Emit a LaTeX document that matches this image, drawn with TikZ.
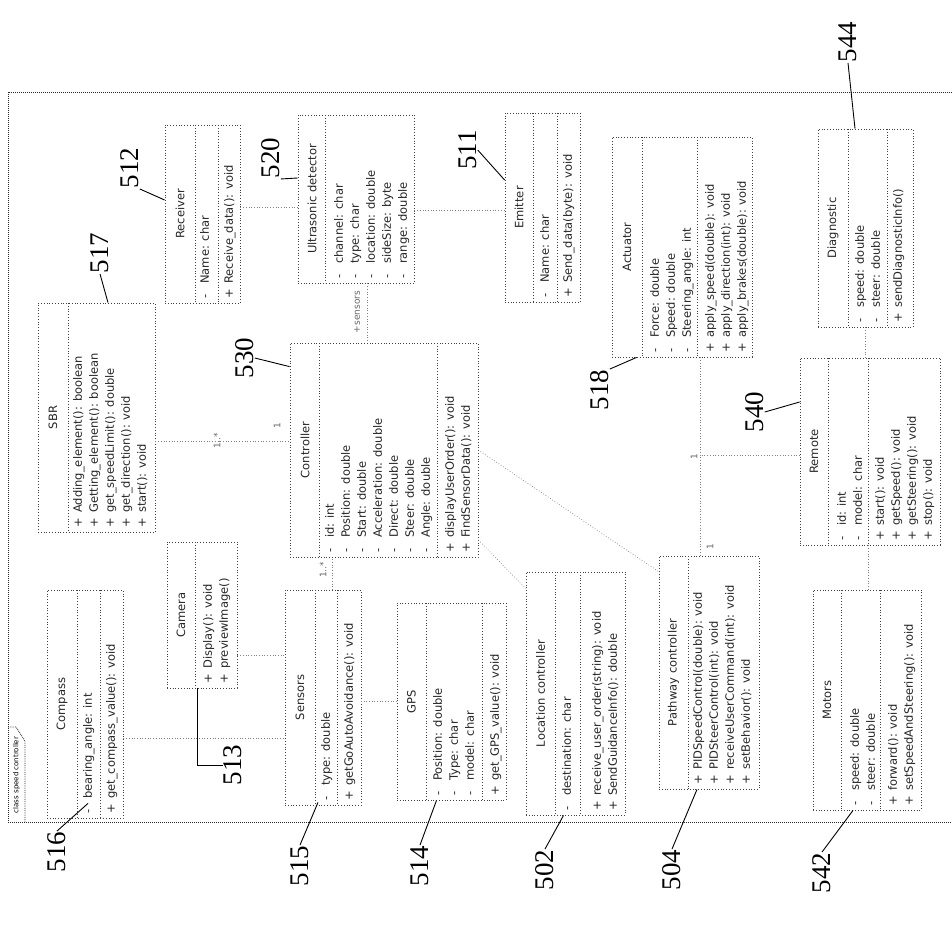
\documentclass[tikz,border=0pt]{standalone}
\usepackage{fontspec}
\usepackage{tikz}
\usetikzlibrary{fit,calc}
\newfontfamily\umlfam{DejaVu Sans}
\newfontfamily\numfam{Liberation Serif}
\newcommand{\umlfont}{\umlfam\fontsize{11.5}{16}\selectfont}
\newcommand{\mulfont}{\umlfam\fontsize{9}{10}\selectfont}
\newcommand{\tabfont}{\umlfam\fontsize{7}{8}\selectfont}
\newcommand{\numfont}{\numfam\fontsize{27}{30}\selectfont}
\newcommand{\vis}[1]{\makebox[15pt][l]{#1}}

\begin{document}
\begin{tikzpicture}[x=1pt, y=-1pt,
  cls/.style={draw=black!75, dotted, line width=0.8pt, inner sep=0pt},
  dv/.style={draw=black!75, dotted, line width=0.8pt},
  ttl/.style={rotate=90, font=\umlfont, text=black!85, inner sep=0pt},
  lst/.style={rotate=90, anchor=north west, align=left, font=\umlfont, text=black!85, inner sep=0pt},
  lnk/.style={draw=black!50, dotted, line width=0.7pt},
  mul/.style={rotate=90, font=\mulfont, text=black!60, inner sep=0.5pt},
  num/.style={rotate=90, font=\numfont, inner sep=0.5pt},
  ldr/.style={draw=black, line width=0.9pt}]
  \useasboundingbox (0,0) rectangle (952,930);
  \clip (0,0) rectangle (952,930);
  % --- frame ---
  \node[draw=black!85, densely dotted, line width=1pt, inner sep=0pt, fit={(8,92)(990,822)}] (frm) {};
  \draw[draw=black!85, densely dotted, line width=0.8pt] (8,727) -- (16,727) -- (25,741) -- (25,822);
  \node[rotate=90, font=\tabfont, inner sep=0pt] (tab) at (16.5,775) {class speed controller};
  % --- left column ---
  \node[cls, fit={(47,590)(123,818)}] (cmp) {};
  \draw[dv] (77,590) -- (77,818); \draw[dv] (100,590) -- (100,818);
  \node[ttl] (cmp-n) at (62,704) {Compass};
  \node[lst] (cmp-a) at (83,814) {\vis{-}bearing\_angle: int};
  \node[lst] (cmp-m) at (106,814) {\vis{+}get\_compass\_value(): void};
  \node[cls, fit={(167,542)(237,688)}] (cam) {};
  \draw[dv] (195,542) -- (195,688);
  \node[ttl] (cam-n) at (181,615) {Camera};
  \node[lst] (cam-m) at (203,684) {\vis{+}Display(): void\\\vis{+}previewImage()};
  \node[cls, fit={(38,303)(155,532)}] (sbr) {};
  \draw[dv] (68,303) -- (68,532);
  \node[ttl] (sbr-n) at (53,417.5) {SBR};
  \node[lst] (sbr-m) at (73,528) {\vis{+}Adding\_element(): boolean\\\vis{+}Getting\_element(): boolean\\\vis{+}get\_speedLimit(): double\\\vis{+}get\_direction(): void\\\vis{+}start(): void};
  \node[cls, fit={(165,125)(240,303)}] (rcv) {};
  \draw[dv] (195,125) -- (195,303); \draw[dv] (218,125) -- (218,303);
  \node[ttl] (rcv-n) at (180,214) {Receiver};
  \node[lst] (rcv-a) at (200,299) {\vis{-}Name: char};
  \node[lst] (rcv-m) at (224,299) {\vis{+}Receive\_data(): void};
  % --- middle column ---
  \node[cls, fit={(298,115)(414,283)}] (usd) {};
  \draw[dv] (325,115) -- (325,283);
  \node[ttl] (usd-n) at (312,199) {Ultrasonic detector};
  \node[lst] (usd-a) at (334,279) {\vis{-}channel: char\\\vis{-}type: char\\\vis{-}location: double\\\vis{-}sideSize: byte\\\vis{-}range: double};
  \node[cls, fit={(290,343)(478,557)}] (ctl) {};
  \draw[dv] (319,343) -- (319,557); \draw[dv] (437,343) -- (437,557);
  \node[ttl] (ctl-n) at (305,450) {Controller};
  \node[lst] (ctl-a) at (325,553) {\vis{-}id: int\\\vis{-}Position: double\\\vis{-}Start: double\\\vis{-}Acceleration: double\\\vis{-}Direct: double\\\vis{-}Steer: double\\\vis{-}Angle: double};
  \node[lst] (ctl-m) at (445,553) {\vis{+}displayUserOrder(): void\\\vis{+}FindSensorData(): void};
  \node[cls, fit={(285,590)(361,805)}] (sns) {};
  \draw[dv] (315,590) -- (315,805); \draw[dv] (337,590) -- (337,805);
  \node[ttl] (sns-n) at (300,697.5) {Sensors};
  \node[lst] (sns-a) at (321,801) {\vis{-}type: double};
  \node[lst] (sns-m) at (344,801) {\vis{+}getGoAutoAvoidance(): void};
  \node[cls, fit={(397,603)(506,800)}] (gps) {};
  \draw[dv] (426,603) -- (426,800); \draw[dv] (482,603) -- (482,800);
  \node[ttl] (gps-n) at (411.5,701.5) {GPS};
  \node[lst] (gps-a) at (433,796) {\vis{-}Position: double\\\vis{-}Type: char\\\vis{-}model: char};
  \node[lst] (gps-m) at (490,796) {\vis{+}get\_GPS\_value(): void};
  \node[cls, fit={(505,113)(580,302)}] (emt) {};
  \draw[dv] (533,113) -- (533,302); \draw[dv] (557,113) -- (557,302);
  \node[ttl] (emt-n) at (519,207.5) {Emitter};
  \node[lst] (emt-a) at (540,298) {\vis{-}Name: char};
  \node[lst] (emt-m) at (563,298) {\vis{+}Send\_data(byte): void};
  \node[cls, fit={(526,572)(625,815)}] (loc) {};
  \draw[dv] (555,572) -- (555,815); \draw[dv] (580,572) -- (580,815);
  \node[ttl] (loc-n) at (540.5,693.5) {Location controller};
  \node[lst] (loc-a) at (562,811) {\vis{-}destination: char};
  \node[lst] (loc-m) at (592,811) {\vis{+}receive\_user\_order(string): void\\\vis{+}SendGuidanceInfo(): double};
  % --- right column ---
  \node[cls, fit={(612,137)(752,357)}] (act) {};
  \draw[dv] (642,137) -- (642,357); \draw[dv] (697,137) -- (697,357);
  \node[ttl] (act-n) at (627,247) {Actuator};
  \node[lst] (act-a) at (650,353) {\vis{-}Force: double\\\vis{-}Speed: double\\\vis{-}Steering\_angle: int};
  \node[lst] (act-m) at (705,353) {\vis{+}apply\_speed(double): void\\\vis{+}apply\_direction(int): void\\\vis{+}apply\_brakes(double): void};
  \node[cls, fit={(659,556)(759,789)}] (pth) {};
  \draw[dv] (688,556) -- (688,789);
  \node[ttl] (pth-n) at (673.5,672.5) {Pathway controller};
  \node[lst] (pth-m) at (693,785) {\vis{+}PIDSpeedControl(double): void\\\vis{+}PIDSteerControl(int): void\\\vis{+}receiveUserCommand(int): void\\\vis{+}setBehavior(): void};
  \node[cls, fit={(818,129)(913,327)}] (dgn) {};
  \draw[dv] (848,129) -- (848,327); \draw[dv] (887,129) -- (887,327);
  \node[ttl] (dgn-n) at (833,228) {Diagnostic};
  \node[lst] (dgn-a) at (855,323) {\vis{-}speed: double\\\vis{-}steer: double};
  \node[lst] (dgn-m) at (893,323) {\vis{+}sendDiagnosticInfo()};
  \node[cls, fit={(800,358)(940,545)}] (rmt) {};
  \draw[dv] (828,358) -- (828,545); \draw[dv] (868,358) -- (868,545);
  \node[ttl] (rmt-n) at (814,451.5) {Remote};
  \node[lst] (rmt-a) at (837,541) {\vis{-}id: int\\\vis{-}model: char};
  \node[lst] (rmt-m) at (875,541) {\vis{+}start(): void\\\vis{+}getSpeed(): void\\\vis{+}getSteering(): void\\\vis{+}stop(): void};
  \node[cls, fit={(813,590)(921,810)}] (mot) {};
  \draw[dv] (841,590) -- (841,810); \draw[dv] (880,590) -- (880,810);
  \node[ttl] (mot-n) at (827,700) {Motors};
  \node[lst] (mot-a) at (850,806) {\vis{-}speed: double\\\vis{-}steer: double};
  \node[lst] (mot-m) at (888,806) {\vis{+}forward(): void\\\vis{+}setSpeedAndSteering(): void};
  % --- connectors ---
  \draw[lnk] ([yshift=7pt]rcv.east) -- ([yshift=7pt]rcv.east -| usd.west);
  \draw[lnk] ([yshift=-11pt]usd.east) -- ([yshift=-11pt]usd.east -| emt.west);
  \draw[lnk] ([xshift=11pt]usd.south) -- ([xshift=11pt]usd.south |- ctl.north);
  \draw[lnk] ([yshift=-24pt]sbr.east) -- ([yshift=-24pt]sbr.east -| ctl.west);
  \draw[lnk] ([xshift=9pt]sns.north) -- ([xshift=9pt]sns.north |- ctl.south);
  \draw[lnk] ([yshift=-34pt]cmp.east) -- ([yshift=-34pt]cmp.east -| sns.west);
  \draw[lnk] ([yshift=-40pt]cam.east) -- ([yshift=-40pt]cam.east -| sns.west);
  \draw[lnk] (gps.west) -- (gps.west -| sns.east);
  \draw[lnk] ([yshift=-90pt]ctl.east) -- ([yshift=105pt]loc.west);
  \draw[lnk] (ctl.east) -- ([yshift=-16pt]pth.north west);
  \draw[lnk] ([xshift=18pt]act.south) coordinate (jt) -- ([xshift=18pt]act.south |- pth.north);
  \draw[lnk] ([yshift=-3.5pt]rmt.west) -- ([yshift=-3.5pt]rmt.west -| jt);
  \draw[lnk] (dgn.south) -- (dgn.south |- rmt.north);
  \draw[lnk] ([xshift=-2pt]rmt.south) -- ([xshift=-2pt]rmt.south |- mot.north);
  \node[mul] (m-usd) at (357,312) {+sensors};
  \node[mul] (m-sbr) at (217,441) {1..*};
  \node[mul] (m-ctl) at (277,426) {1};
  \node[mul] (m-sns) at (323,570) {1..*};
  \node[mul] (m-jt) at (694,457) {1};
  \node[mul] (m-pth) at (710,547) {1};
  % --- reference numerals ---
  \node[num] (n516) at (57,852) {516};
  \node[num] (n515) at (300,866) {515};
  \node[num] (n514) at (420,866) {514};
  \node[num] (n502) at (545,870) {502};
  \node[num] (n504) at (672,870) {504};
  \node[num] (n542) at (822,873) {542};
  \node[num] (n513) at (233,765) {513};
  \node[num] (n530) at (245,358) {530};
  \node[num] (n517) at (100,253) {517};
  \node[num] (n512) at (130,168) {512};
  \node[num] (n520) at (271,158) {520};
  \node[num] (n511) at (468,150) {511};
  \node[num] (n518) at (600,390) {518};
  \node[num] (n540) at (755,412) {540};
  \node[num] (n544) at (848,42) {544};
  \draw[ldr] (n516.east) -- ($(cmp.south)+(3pt,15pt)$);
  \draw[ldr] (n515.east) -- ($(sns.south)+(-5pt,3pt)$);
  \draw[ldr] (n514.east) -- ($(gps.south)+(-15pt,0pt)$);
  \draw[ldr] (n502.east) -- ($(loc.south)+(-12pt,0pt)$);
  \draw[ldr] (n504.east) -- ($(pth.south)+(-12pt,0pt)$);
  \draw[ldr] (n542.east) -- ($(mot.south)+(-14pt,0pt)$);
  \draw[ldr] (n513.north) -| ([xshift=-5pt]cam.south);
  \draw[ldr] (n530.south) -- ([yshift=-24pt]ctl.north west);
  \draw[ldr] (n517.west) -- ([xshift=11.5pt]sbr.north);
  \draw[ldr] (n512.south west) -- ([yshift=14pt]rcv.west);
  \draw[ldr] (n520.south west) -- ([yshift=21pt]usd.west);
  \draw[ldr] (n511.south) -- ([yshift=27.5pt]emt.west);
  \draw[ldr] (n518.south east) -- ([xshift=25pt]act.south west);
  \draw[ldr] (n540.south) -- ([yshift=49.5pt]rmt.west);
  \draw[ldr] (n544.west) -- ([xshift=-10.5pt]dgn.north);
\end{tikzpicture}
\end{document}
